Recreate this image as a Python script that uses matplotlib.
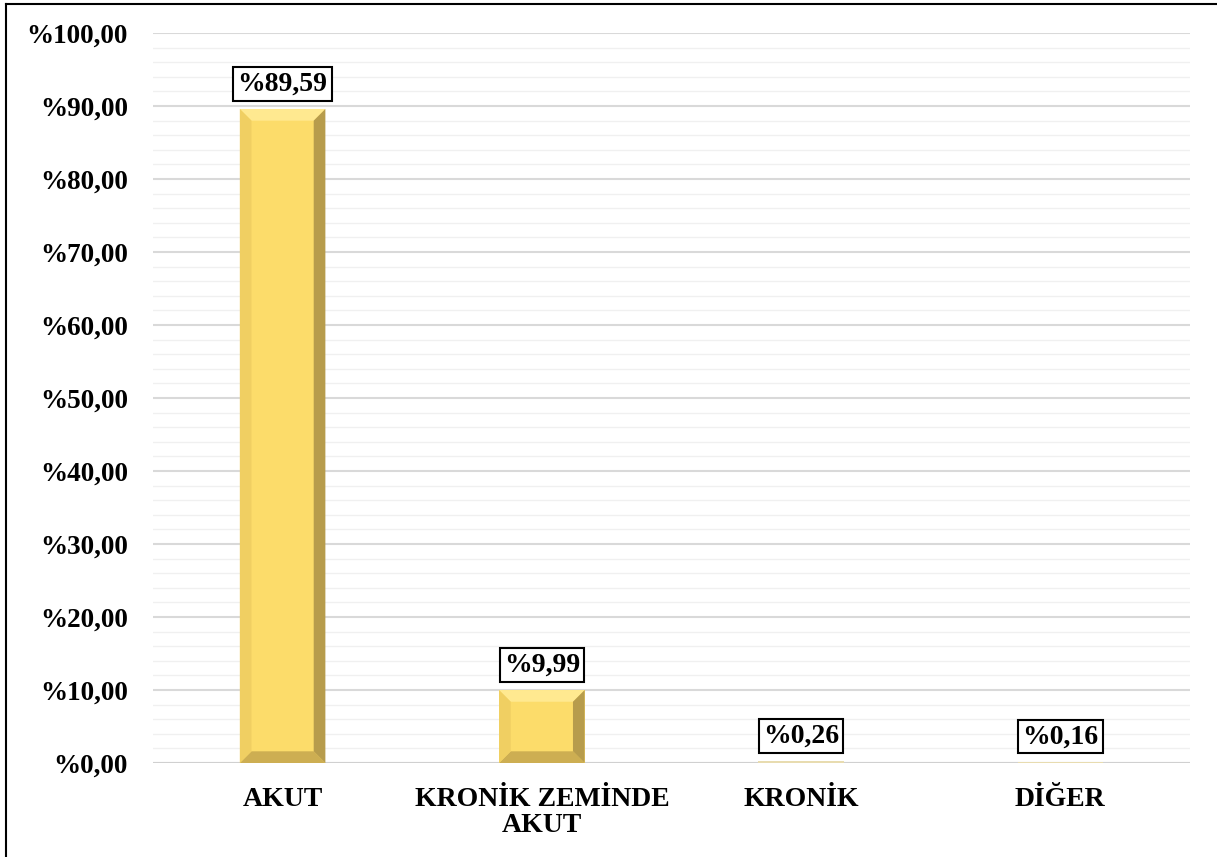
import matplotlib
matplotlib.use("Agg")
import matplotlib.pyplot as plt
from matplotlib.patches import Polygon
from matplotlib.lines import Line2D

categories = ["AKUT", "KRONİK ZEMİNDE\nAKUT", "KRONİK", "DİĞER"]
values = [89.59, 9.99, 0.26, 0.16]
y_ticks = [0, 10, 20, 30, 40, 50, 60, 70, 80, 90, 100]


def pct(v):
    return "%" + f"{v:.2f}".replace(".", ",")


plt.rcParams["font.family"] = ["Liberation Serif", "DejaVu Serif"]
plt.rcParams["font.weight"] = "bold"

fig = plt.figure(figsize=(12.17, 8.57), dpi=100)
ax = fig.add_axes([0.1257, 0.1097, 0.8521, 0.8518])

x = list(range(len(categories)))
bars = ax.bar(x, values, width=0.33, color="#FCDC6A", edgecolor="none", zorder=3)

# bevel look on the bars, built from each bar's own rectangle
bx, by = 0.045, 1.6
for rect in bars:
    x0, w, h = rect.get_x(), rect.get_width(), rect.get_height()
    x1 = x0 + w
    if h < 2.5 * by:
        rect.set_facecolor("#E8DCB0")
        continue
    ax.add_patch(Polygon([(x0, h), (x1, h), (x1 - bx, h - by), (x0 + bx, h - by)],
                         closed=True, facecolor="#FFE990", edgecolor="none", zorder=4))
    ax.add_patch(Polygon([(x0, 0), (x1, 0), (x1 - bx, by), (x0 + bx, by)],
                         closed=True, facecolor="#CDAE52", edgecolor="none", zorder=4))
    ax.add_patch(Polygon([(x0, 0), (x0, h), (x0 + bx, h - by), (x0 + bx, by)],
                         closed=True, facecolor="#F0CF62", edgecolor="none", zorder=4))
    ax.add_patch(Polygon([(x1, 0), (x1, h), (x1 - bx, h - by), (x1 - bx, by)],
                         closed=True, facecolor="#B79C4C", edgecolor="none", zorder=4))

for xi, v in zip(x, values):
    ax.annotate(pct(v), (xi, v), xytext=(0, 9), textcoords="offset points",
                ha="center", va="bottom", fontsize=20, fontweight="bold",
                bbox=dict(boxstyle="square,pad=0.15", facecolor="white",
                          edgecolor="black", linewidth=1.5), zorder=5)

ax.set_xlim(-0.5, len(categories) - 0.5)
ax.set_ylim(0, 100)
ax.set_yticks(y_ticks)
ax.set_yticklabels([pct(t) for t in y_ticks], fontsize=19.5, fontweight="bold")
ax.set_xticks(x)
ax.set_xticklabels(categories, fontsize=20, fontweight="bold", linespacing=1.1, va="top")

ax.set_yticks([t for t in range(0, 101, 2) if t % 10], minor=True)
ax.grid(axis="y", which="major", color="#D9D9D9", linewidth=1.5, zorder=0)
ax.grid(axis="y", which="minor", color="#F0F0F0", linewidth=1.0, zorder=0)
ax.tick_params(axis="y", which="both", length=0, pad=18)
ax.tick_params(axis="x", length=0, pad=17)
for s in ax.spines.values():
    s.set_visible(False)
ax.axhline(0, color="#D0D0D0", linewidth=1.5, zorder=2)

fig.add_artist(Line2D([6 / 1217, 6 / 1217], [0, 1 - 4 / 857], color="black", linewidth=1.5))
fig.add_artist(Line2D([6 / 1217, 1], [1 - 4 / 857, 1 - 4 / 857], color="black", linewidth=1.5))

fig.savefig("out.png", dpi=100, facecolor="white")
